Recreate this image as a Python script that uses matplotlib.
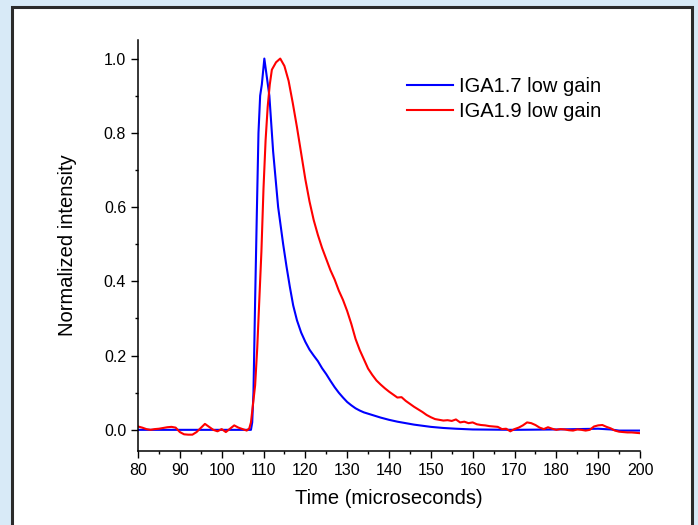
import numpy as np
import matplotlib.pyplot as plt
from matplotlib.patches import Rectangle
from matplotlib.ticker import MultipleLocator

plt.rcParams['font.family'] = ['Liberation Sans', 'DejaVu Sans']

# IGA1.7 low gain (azul)
t_azul = [80, 107, 107.3, 107.6, 108, 108.4, 108.8, 109.2, 109.6, 110.2, 111.4, 112.3,
          113.5, 114.7, 115.5, 116.3, 117.1, 118, 119, 120, 121, 122, 123, 124, 125,
          126, 127, 128, 129, 130, 131, 132, 133, 134, 136, 138, 140, 142, 144, 146,
          148, 150, 153, 156, 160, 170, 180, 185, 190, 193, 195, 200]
v_azul = [0, 0, 0.02, 0.1, 0.35, 0.58, 0.8, 0.9, 0.93, 1.0, 0.9, 0.75,
          0.6, 0.5, 0.44, 0.385, 0.335, 0.295, 0.262, 0.237, 0.216, 0.2, 0.185, 0.166, 0.15,
          0.132, 0.115, 0.1, 0.087, 0.075, 0.066, 0.058, 0.052, 0.047, 0.04, 0.033, 0.027,
          0.022, 0.018, 0.014, 0.011, 0.008, 0.005, 0.003, 0.001, 0, 0.001, 0.002, 0.003,
          0.001, -0.002, -0.002]

# IGA1.9 low gain (vermelho)
t_verm = [80, 81, 82, 83, 84, 85, 86, 87, 88, 89, 90, 91, 92, 93, 94, 95, 96, 97, 98, 99,
          100, 101, 102, 103, 104, 105, 106, 106.6, 107, 107.4, 108, 108.5, 109, 109.5,
          110, 110.5, 111, 111.5, 112, 113, 114, 115, 116, 117, 118, 119, 120, 121, 122,
          123, 124, 125, 126, 127, 128, 129, 130, 131, 132, 133, 134, 135, 136, 137, 138,
          139, 140, 141, 142, 143, 144, 145, 146, 147, 148, 149, 150, 151, 152, 153, 154,
          155, 156, 157, 158, 159, 160, 161, 162, 163, 164, 165, 166, 167, 168, 169, 170,
          171, 172, 173, 174, 175, 176, 177, 178, 179, 180, 181, 182, 183, 184, 185, 186,
          187, 188, 189, 190, 191, 192, 193, 194, 195, 196, 197, 198, 199, 200]
v_verm = [0.009, 0.006, 0.002, 0.0, 0.002, 0.003, 0.005, 0.007, 0.008, 0.006, -0.006,
          -0.012, -0.013, -0.013, -0.006, 0.005, 0.016, 0.008, 0.0, -0.004, 0.002, -0.006,
          0.003, 0.012, 0.006, 0.002, -0.002, 0.004, 0.02, 0.06, 0.12, 0.22, 0.35, 0.48,
          0.65, 0.78, 0.87, 0.93, 0.97, 0.99, 1.0, 0.98, 0.94, 0.88, 0.815, 0.745, 0.675,
          0.615, 0.565, 0.525, 0.49, 0.46, 0.43, 0.405, 0.375, 0.35, 0.32, 0.285, 0.245, 0.215,
          0.19, 0.165, 0.148, 0.133, 0.122, 0.112, 0.103, 0.095, 0.087, 0.088, 0.078, 0.07,
          0.062, 0.055, 0.048, 0.04, 0.034, 0.029, 0.027, 0.025, 0.026, 0.024, 0.028, 0.02,
          0.022, 0.018, 0.02, 0.015, 0.013, 0.012, 0.01, 0.009, 0.008, 0.002, 0.003, -0.004,
          0.002, 0.006, 0.012, 0.02, 0.018, 0.013, 0.006, 0.002, 0.007, 0.003, 0.0, 0.002,
          0.001, -0.001, -0.002, 0.001, 0.0, -0.002, 0.0, 0.009, 0.012, 0.013, 0.008, 0.004,
          -0.002, -0.005, -0.006, -0.007, -0.007, -0.008, -0.009]

fig = plt.figure(figsize=(6.98, 5.25), dpi=100, facecolor='#d8eaf7')

# painel branco com borda escura (atrás dos eixos)
painel = Rectangle((12 / 698, -0.05), 680 / 698, 1.05 - 7 / 525,
                   transform=fig.transFigure, facecolor='white',
                   edgecolor='#2b2b2b', linewidth=2.2, zorder=-10)
fig.patches.append(painel)

ax = fig.add_axes([138 / 698, 1 - 451 / 525, 502 / 698, 411 / 525])
ax.set_zorder(5)
ax.set_facecolor('none')

ax.plot(t_azul, v_azul, color='#0000ff', linewidth=1.5, label='IGA1.7 low gain')
ax.plot(t_verm, v_verm, color='#ff0000', linewidth=1.5, label='IGA1.9 low gain')

ax.set_xlim(80, 200)
ax.set_ylim(-0.057, 1.05)
ax.xaxis.set_major_locator(MultipleLocator(10))
ax.xaxis.set_minor_locator(MultipleLocator(5))
ax.yaxis.set_major_locator(MultipleLocator(0.2))
ax.yaxis.set_minor_locator(MultipleLocator(0.1))
ax.yaxis.set_major_formatter(plt.FormatStrFormatter('%.1f'))

for lado in ['top', 'right']:
    ax.spines[lado].set_visible(False)
for lado in ['left', 'bottom']:
    ax.spines[lado].set_linewidth(1.1)

ax.tick_params(which='major', direction='out', length=5, width=1, labelsize=11.5)
ax.tick_params(which='minor', direction='out', length=2.5, width=1)

ax.set_xlabel('Time (microseconds)', fontsize=14.5, labelpad=8)
ax.set_ylabel('Normalized intensity', fontsize=14.5, labelpad=19)

ax.legend(loc='upper left', bbox_to_anchor=(0.52, 0.93), frameon=False, fontsize=14.5,
          handlelength=2.3, handletextpad=0.3, labelspacing=0.32, borderaxespad=0)

fig.savefig('out.png', dpi=100, facecolor=fig.get_facecolor())
